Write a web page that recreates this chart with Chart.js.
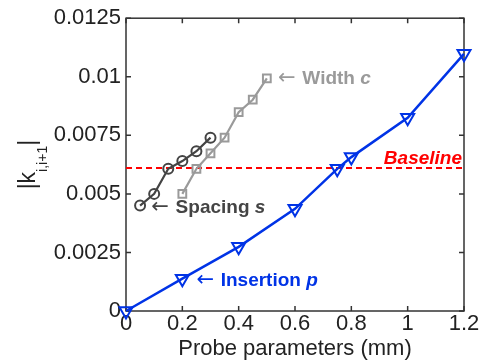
<!DOCTYPE html>
<html>
<head>
<meta charset="utf-8">
<script src="https://cdn.jsdelivr.net/npm/chart.js@4.4.1/dist/chart.umd.min.js"></script>
<style>
  html, body { margin: 0; padding: 0; background: #fff; }
  #wrap { width: 487px; height: 364px; }
</style>
</head>
<body>
<div id="wrap"><canvas id="probeChart"></canvas></div>
<script>
// tick positions
const xTicks = [0, 0.2, 0.4, 0.6, 0.8, 1, 1.2]
const yTicks = [0, 0.0025, 0.005, 0.0075, 0.01, 0.0125]

// series
const insertionX = [0, 0.2, 0.4, 0.6, 0.75, 0.8, 1, 1.2]
const insertionY = [0, 0.00138, 0.00274, 0.00436, 0.00607, 0.00657, 0.00825, 0.01098]
const spacingX = [0.05, 0.1, 0.15, 0.2, 0.25, 0.3]
const spacingY = [0.0045, 0.005, 0.00607, 0.0064, 0.00682, 0.0074]
const widthX = [0.2, 0.25, 0.3, 0.35, 0.4, 0.45, 0.5]
const widthY = [0.005, 0.00607, 0.00673, 0.0074, 0.00849, 0.00902, 0.00993]
const baselineX = [0, 1.2]
const baselineY = [0.0061, 0.0061]

const blue = '#0033e6'
const darkGray = '#444444'
const lightGray = '#9a9a9a'
const red = '#ff0000'
const axisColor = '#333333'
const textColor = '#222222'
const family = '"Liberation Sans", Arial, sans-serif'

const toPoints = (xs, ys) => xs.map((x, i) => ({x: x, y: ys[i]}))

const fmt = v => String(Number(v.toFixed(4)))

// draw a run of text pieces with different fonts, left to right
const drawParts = (ctx, x, y, parts, color, alignRight) => {
    ctx.fillStyle = color
    ctx.textBaseline = 'middle'
    ctx.textAlign = 'left'
    let total = 0
    for (const p of parts) { ctx.font = p.font; total += ctx.measureText(p.text).width }
    let cx = alignRight ? x - total : x
    for (const p of parts) {
        ctx.font = p.font
        ctx.fillText(p.text, cx, y)
        cx += ctx.measureText(p.text).width
    }
}

const arrow = '21px "DejaVu Sans", sans-serif'
const bold = 'bold 19px ' + family
const boldIt = 'italic bold 19px ' + family

// frame box with inward ticks on all four sides
const framePlugin = {
    id: 'frame',
    beforeDatasetsDraw(chart) {
        const {ctx, chartArea: a, scales: {x, y}} = chart
        ctx.save()
        ctx.strokeStyle = axisColor
        ctx.lineWidth = 1.5
        ctx.strokeRect(a.left, a.top, a.right - a.left, a.bottom - a.top)
        ctx.beginPath()
        for (const v of xTicks) {
            const px = x.getPixelForValue(v)
            ctx.moveTo(px, a.bottom); ctx.lineTo(px, a.bottom - 5)
            ctx.moveTo(px, a.top); ctx.lineTo(px, a.top + 5)
        }
        for (const v of yTicks) {
            const py = y.getPixelForValue(v)
            ctx.moveTo(a.left, py); ctx.lineTo(a.left + 5, py)
            ctx.moveTo(a.right, py); ctx.lineTo(a.right - 5, py)
        }
        ctx.stroke()
        ctx.restore()
    },
    afterDatasetsDraw(chart) {
        const {ctx, chartArea: a, scales: {x, y}} = chart
        ctx.save()

        // series labels
        drawParts(ctx, x.getPixelForValue(0.54), y.getPixelForValue(widthY[widthY.length - 1]),
            [{text: '\u2190 ', font: arrow}, {text: 'Width ', font: bold}, {text: 'c', font: boldIt}], lightGray)
        drawParts(ctx, x.getPixelForValue(0.09), y.getPixelForValue(0.0044),
            [{text: '\u2190 ', font: arrow}, {text: 'Spacing ', font: bold}, {text: 's', font: boldIt}], darkGray)
        drawParts(ctx, x.getPixelForValue(0.25), y.getPixelForValue(0.0013),
            [{text: '\u2190 ', font: arrow}, {text: 'Insertion ', font: bold}, {text: 'p', font: boldIt}], blue)
        drawParts(ctx, a.right - 2, y.getPixelForValue(0.0065),
            [{text: 'Baseline', font: boldIt}], red, true)

        // y axis title |k_{i,i+1}|
        ctx.translate(35, (a.top + a.bottom) / 2)
        ctx.rotate(-Math.PI / 2)
        ctx.fillStyle = textColor
        ctx.textBaseline = 'alphabetic'
        const mainFont = '23px ' + family
        const subFont = '14px ' + family
        ctx.font = mainFont
        const w1 = ctx.measureText('|k').width
        const w3 = ctx.measureText('|').width
        ctx.font = subFont
        const w2 = ctx.measureText('i,i+1').width
        let cx = -(w1 + w2 + w3) / 2
        ctx.font = mainFont
        ctx.fillText('|k', cx, 0)
        cx += w1
        ctx.font = subFont
        ctx.fillText('i,i+1', cx, 12)
        cx += w2
        ctx.font = mainFont
        ctx.fillText('|', cx, 0)
        ctx.restore()
    }
}

const probeChart = document.querySelector('#probeChart')

new Chart(probeChart, {
    type: 'line',
    data: {
        datasets: [
            {
                label: 'Baseline',
                data: toPoints(baselineX, baselineY),
                borderColor: red,
                borderWidth: 2,
                borderDash: [6, 4],
                pointRadius: 0,
                order: 4
            },
            {
                label: 'Width c',
                data: toPoints(widthX, widthY),
                borderColor: lightGray,
                borderWidth: 2.2,
                pointStyle: 'rect',
                pointRadius: 5.5,
                pointBorderWidth: 2,
                pointBackgroundColor: 'rgba(0,0,0,0)',
                pointBorderColor: lightGray,
                order: 3
            },
            {
                label: 'Spacing s',
                data: toPoints(spacingX, spacingY),
                borderColor: darkGray,
                borderWidth: 2.2,
                pointStyle: 'circle',
                pointRadius: 5,
                pointBorderWidth: 2,
                pointBackgroundColor: 'rgba(0,0,0,0)',
                pointBorderColor: darkGray,
                order: 2
            },
            {
                label: 'Insertion p',
                data: toPoints(insertionX, insertionY),
                borderColor: blue,
                borderWidth: 2.5,
                pointStyle: 'triangle',
                pointRotation: 180,
                pointRadius: 7.5,
                pointBorderWidth: 2,
                pointBackgroundColor: 'rgba(0,0,0,0)',
                pointBorderColor: blue,
                clip: false,
                order: 1
            }
        ]
    },
    options: {
        responsive: true,
        maintainAspectRatio: false,
        animation: false,
        layout: { padding: { top: 14, right: 23, left: 0, bottom: 0 } },
        plugins: { legend: { display: false }, tooltip: { enabled: false } },
        scales: {
            x: {
                type: 'linear',
                min: 0,
                max: 1.2,
                afterFit: s => { s.height = 53 },
                afterBuildTicks: s => { s.ticks = xTicks.map(v => ({value: v})) },
                grid: { display: false, drawTicks: false },
                border: { display: false },
                ticks: { padding: 0, color: textColor, font: { family: family, size: 22 }, callback: v => fmt(v), maxRotation: 0 },
                title: { display: true, text: 'Probe parameters (mm)', color: textColor, font: { family: family, size: 22 }, padding: { top: 0, bottom: 2 } }
            },
            y: {
                type: 'linear',
                min: 0,
                max: 0.0125,
                afterFit: s => { s.width = 126 },
                afterBuildTicks: s => { s.ticks = yTicks.map(v => ({value: v})) },
                grid: { display: false, drawTicks: false },
                border: { display: false },
                ticks: { padding: 5, color: textColor, font: { family: family, size: 22 }, callback: v => fmt(v) }
            }
        }
    },
    plugins: [framePlugin]
})
</script>
</body>
</html>
